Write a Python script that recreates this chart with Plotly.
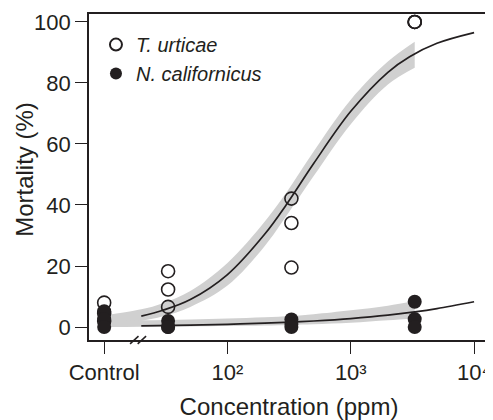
import plotly.graph_objects as go

# ---- data ----
dose_tu = [10, 10, 10, 33, 33, 33, 330, 330, 330, 3300, 3300, 3300]   # control plotted at 10
mort_tu = [8.0, 4.5, 2.0, 18.3, 12.3, 6.6, 42.1, 34.1, 19.5, 100, 100, 100]

dose_nc = [10, 10, 10, 33, 33, 33, 330, 330, 330, 3300, 3300, 3300]
mort_nc = [5.2, 2.6, 0.0, 2.0, 0.0, 0.0, 2.5, 1.0, 0.0, 8.3, 2.6, 0.0]

# fitted curves
curve_x_tu = [20, 30, 50, 100, 200, 300, 500, 1000, 2000, 3000, 5000, 10000]
curve_y_tu = [3.6, 5.5, 9.0, 17.2, 30.4, 40.1, 53.6, 70.7, 83.5, 88.6, 93.0, 96.5]
curve_x_nc = [20, 50, 100, 200, 330, 500, 1000, 2000, 3300, 5000, 10000]
curve_y_nc = [0.4, 0.63, 0.89, 1.26, 1.61, 1.98, 2.77, 3.88, 4.97, 6.06, 8.3]

# confidence bands
band_x_tu = [10, 20, 30, 50, 100, 200, 300, 500, 1000, 2000, 3300]
band_hi_tu = [3.8, 5.8, 7.8, 11.8, 21.0, 34.5, 44.0, 57.5, 74.5, 87.0, 93.5]
band_lo_tu = [0.6, 2.0, 3.5, 6.6, 13.6, 26.5, 36.4, 49.5, 66.5, 79.5, 85.0]
band_x_nc = [10, 20, 50, 100, 200, 330, 500, 1000, 2000, 3300]
band_hi_nc = [2.0, 2.2, 2.5, 2.8, 3.2, 3.6, 4.2, 5.5, 7.0, 8.5]
band_lo_nc = [0.0, 0.1, 0.2, 0.3, 0.5, 0.7, 0.9, 1.4, 2.2, 2.8]

x_tickvals = [10, 100, 1000, 10000]
x_ticktext = ["Control", "10²", "10³", "10⁴"]
y_tickvals = [0, 20, 40, 60, 80, 100]

BAND = "#d0d0d0"
INK = "#231f20"
FONT = "Liberation Sans, Arial, Helvetica, sans-serif"

X_RANGE = [0.877, 4.121]
Y_RANGE = [-4.25, 102.6]

fig = go.Figure()

for bx, hi, lo in [(band_x_tu, band_hi_tu, band_lo_tu), (band_x_nc, band_hi_nc, band_lo_nc)]:
    fig.add_trace(go.Scatter(x=bx, y=lo, mode="lines", line=dict(width=0, shape="spline"),
                             hoverinfo="skip", showlegend=False))
    fig.add_trace(go.Scatter(x=bx, y=hi, mode="lines", line=dict(width=0, shape="spline"),
                             fill="tonexty", fillcolor=BAND,
                             hoverinfo="skip", showlegend=False))

for cx, cy in [(curve_x_tu, curve_y_tu), (curve_x_nc, curve_y_nc)]:
    fig.add_trace(go.Scatter(x=cx, y=cy, mode="lines", line=dict(color=INK, width=1.7, shape="spline"),
                             showlegend=False, hoverinfo="skip"))

fig.add_trace(go.Scatter(x=dose_tu, y=mort_tu, mode="markers", name="<i>T. urticae</i>",
                         legendgroup="tu",
                         marker=dict(symbol="circle-open", size=13, color=INK, line=dict(width=1.6, color=INK))))
fig.add_trace(go.Scatter(x=dose_nc, y=mort_nc, mode="markers", name="<i>N. californicus</i>",
                         legendgroup="nc",
                         marker=dict(symbol="circle", size=14, color=INK, line=dict(width=0))))

# axis break marks ("//") at 20 ppm, drawn in paper coordinates
import math
bx_paper = (math.log10(20) - X_RANGE[0]) / (X_RANGE[1] - X_RANGE[0])
for dx in (-0.028, -0.009):
    fig.add_shape(type="line", xref="paper", yref="paper",
                  x0=bx_paper + dx, x1=bx_paper + dx + 0.021,
                  y0=-0.012, y1=0.012, layer="above",
                  line=dict(color=INK, width=1.5))

# y-axis title as an annotation for exact placement
fig.add_annotation(text="Mortality (%)", xref="paper", yref="paper",
                   x=-0.1617, y=0.523, xanchor="center", yanchor="middle",
                   textangle=-90, showarrow=False, font=dict(size=24, family=FONT, color=INK))

fig.update_layout(
    width=485, height=412,
    margin=dict(l=81, r=2, t=5, b=80),
    paper_bgcolor="white", plot_bgcolor="white",
    font=dict(family=FONT, color=INK, size=22),
    legend=dict(x=0.0174, y=0.966, xanchor="left", yanchor="top",
                font=dict(size=20, family=FONT), bgcolor="rgba(0,0,0,0)",
                itemsizing="constant", tracegroupgap=0),
)
fig.update_xaxes(type="log", range=X_RANGE, tickvals=x_tickvals, ticktext=x_ticktext,
                 ticks="outside", ticklen=12, tickwidth=1.3, tickcolor=INK,
                 showline=True, linecolor=INK, linewidth=1.6, mirror=True,
                 showgrid=False, zeroline=False,
                 title=dict(text="Concentration (ppm)", font=dict(size=24), standoff=16),
                 tickfont=dict(size=22))
fig.update_yaxes(range=Y_RANGE, tickvals=y_tickvals,
                 ticks="outside", ticklen=12, tickwidth=1.3, tickcolor=INK,
                 showline=True, linecolor=INK, linewidth=1.6, mirror=True,
                 showgrid=False, zeroline=False,
                 tickfont=dict(size=22))

fig.write_html("out.html")
